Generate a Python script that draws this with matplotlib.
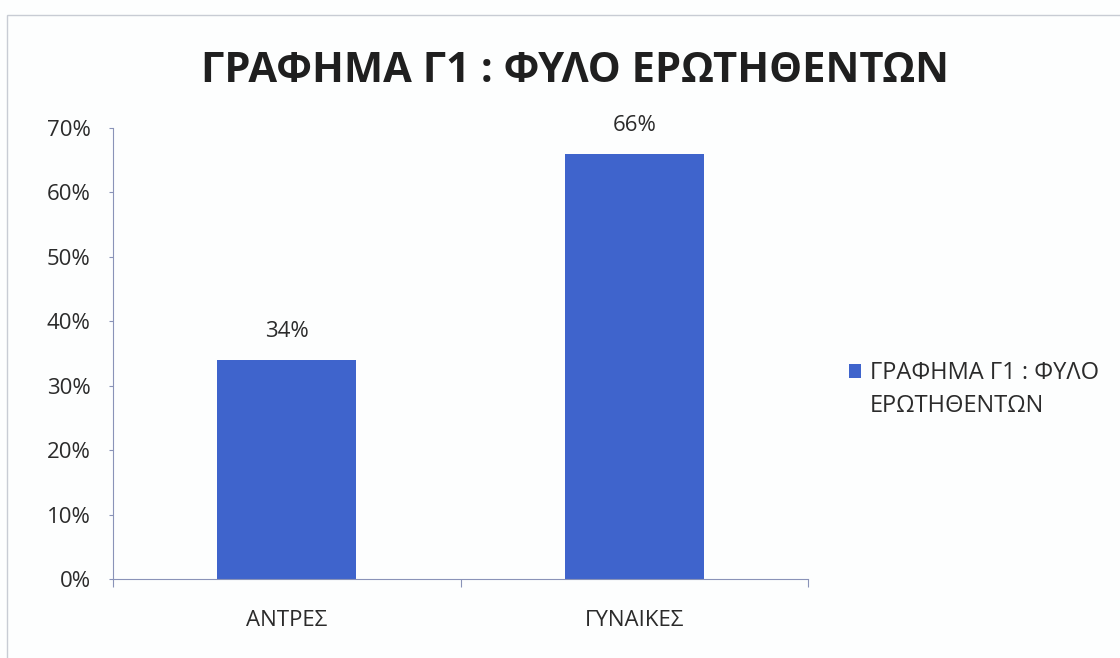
import matplotlib.pyplot as plt
from matplotlib.patches import Rectangle
from matplotlib.ticker import PercentFormatter

categories = ['ΑΝΤΡΕΣ', 'ΓΥΝΑΙΚΕΣ']
values = [34, 66]
yticks = [0, 10, 20, 30, 40, 50, 60, 70]
title = 'ΓΡΑΦΗΜΑ Γ1 : ΦΥΛΟ ΕΡΩΤΗΘΕΝΤΩΝ'
series_lines = ['ΓΡΑΦΗΜΑ Γ1 : ΦΥΛΟ', 'ΕΡΩΤΗΘΕΝΤΩΝ']

plt.rcParams['font.family'] = ['Open Sans', 'DejaVu Sans']
bar_color = '#3f64cc'
axis_color = '#8a93b8'
text_color = '#2b2b2b'

fig = plt.figure(figsize=(11.2, 6.58), dpi=100)
fig.patch.set_facecolor('#fdfefe')
# faint frame of the scanned chart area
fig.patches.append(Rectangle((7 / 1120, -0.01), 1.02, 1 - 15 / 658 + 0.01,
                             transform=fig.transFigure, fill=False,
                             edgecolor='#c8ccd4', lw=1.0, zorder=0))

ax = fig.add_axes([113 / 1120, 1 - 579 / 658, 695 / 1120, 451 / 658])
ax.set_facecolor('none')
x = range(len(categories))
bars = ax.bar(x, values, width=0.4, color=bar_color, zorder=2)
ax.set_xlim(-0.5, 1.5)
ax.set_ylim(0, 70)
ax.set_yticks(yticks)
ax.yaxis.set_major_formatter(PercentFormatter(decimals=0))
ax.set_xticks([-0.5, 0.5, 1.5], minor=False)
ax.set_xticklabels(['', '', ''])
ax.set_xticks(list(x), minor=True)
ax.set_xticklabels(categories, minor=True)
ax.tick_params(axis='x', which='minor', length=0, pad=22, labelsize=16, labelcolor=text_color)
ax.tick_params(axis='x', which='major', length=6, color=axis_color, direction='out')
ax.tick_params(axis='y', length=3, color=axis_color, labelsize=16, labelcolor=text_color, pad=13)
for side in ['top', 'right']:
    ax.spines[side].set_visible(False)
for side in ['left', 'bottom']:
    ax.spines[side].set_color(axis_color)
    ax.spines[side].set_linewidth(0.8)

for b, v in zip(bars, values):
    ax.annotate(f'{v}%', (b.get_x() + b.get_width() / 2, v), xytext=(0, 13),
                textcoords='offset points', ha='center', va='bottom',
                fontsize=16, color=text_color)

fig.text(575 / 1120, 1 - 72 / 658, title, ha='center', va='center',
         fontsize=30, fontweight='bold', color='#1f1f1f')

# legend: marker sits next to the first line, second line wraps below
leg = fig.legend(handles=[bars], labels=[series_lines[0]], loc='upper left',
                 bbox_to_anchor=(840 / 1120, 1 - 352 / 658), frameon=False,
                 fontsize=17, handlelength=0.5, handleheight=0.5, handletextpad=0.35,
                 labelcolor=text_color, borderaxespad=0)
fig.canvas.draw()
bb = leg.get_texts()[0].get_window_extent().transformed(fig.transFigure.inverted())
fig.text(bb.x0, bb.y0 - 33 / 658, series_lines[1], ha='left', va='bottom',
         fontsize=17, color=text_color)

fig.savefig('out.png', dpi=100, facecolor=fig.get_facecolor())
